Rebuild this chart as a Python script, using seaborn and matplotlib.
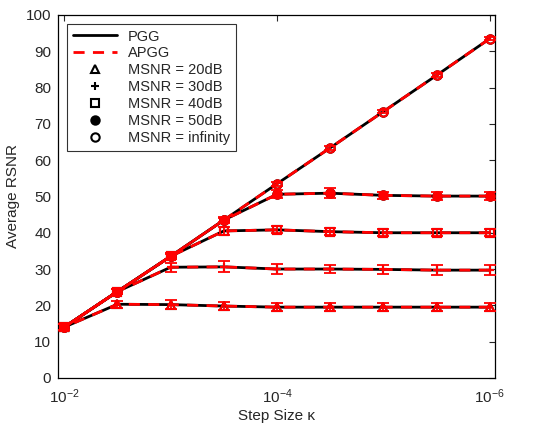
import numpy as np
import pandas as pd
import seaborn as sns
import matplotlib.pyplot as plt
from matplotlib.lines import Line2D

# data
step = [1e-2, 3.16e-3, 1e-3, 3.16e-4, 1e-4, 3.16e-5, 1e-5, 3.16e-6, 1e-6]
labels = ["MSNR = 20dB", "MSNR = 30dB", "MSNR = 40dB", "MSNR = 50dB", "MSNR = infinity"]
markers = ["^", "+", "s", "o", "o"]
filled = [False, True, False, True, False]

rsnr_20 = [14.0, 20.3, 20.2, 19.8, 19.5, 19.5, 19.5, 19.5, 19.5]
rsnr_30 = [14.0, 23.8, 30.5, 30.6, 30.0, 30.0, 29.9, 29.7, 29.7]
rsnr_40 = [14.0, 23.8, 33.5, 40.5, 40.8, 40.3, 40.0, 40.0, 40.0]
rsnr_50 = [14.0, 23.8, 33.5, 43.5, 50.6, 50.9, 50.3, 50.1, 50.1]
rsnr_inf = [14.0, 23.8, 33.5, 43.5, 53.5, 63.4, 73.4, 83.4, 93.5]

err_20 = [0.8, 1.0, 1.3, 1.2, 1.1, 1.1, 1.1, 1.1, 1.1]
err_30 = [0.8, 0.8, 1.3, 1.5, 1.3, 1.2, 1.3, 1.3, 1.3]
err_40 = [0.8, 0.8, 0.8, 1.0, 1.0, 0.9, 0.9, 0.9, 0.9]
err_50 = [0.8, 0.8, 0.8, 0.8, 1.1, 1.3, 1.0, 1.0, 1.0]
err_inf = [0.8, 0.8, 0.6, 0.6, 0.6, 0.6, 0.5, 0.5, 0.5]

series = [rsnr_20, rsnr_30, rsnr_40, rsnr_50, rsnr_inf]
errors = [err_20, err_30, err_40, err_50, err_inf]

sns.set_style("white")
plt.rcParams['font.family'] = ['Liberation Sans', 'DejaVu Sans']
plt.rcParams['mathtext.fontset'] = 'dejavusans'

fig = plt.figure(figsize=(5.54, 4.28), dpi=100)
ax = fig.add_axes([0.105, 0.117, 0.788, 0.848])

for vals, errs, lab, m, f in zip(series, errors, labels, markers, filled):
    df = pd.DataFrame({"step": step, "rsnr": vals})
    # PGG: black solid
    sns.lineplot(data=df, x="step", y="rsnr", ax=ax, color="black", lw=2.0,
                 marker=m, markersize=6, markeredgecolor="black",
                 markerfacecolor="black" if f else "none", mew=1.5)
    # APGG: red dashed, on top
    ax.errorbar(step, vals, yerr=errs, fmt="none", ecolor="red", elinewidth=1.3,
                capsize=4.5, capthick=1.3, zorder=4)
    sns.lineplot(data=df, x="step", y="rsnr", ax=ax, color="red", lw=2.0,
                 linestyle=(0, (4, 3)), marker=m, markersize=6,
                 markeredgecolor="red", markerfacecolor="red" if f else "none",
                 mew=1.5, zorder=5)

ax.set_xscale("log")
ax.set_xlim(1.14e-2, 0.9e-6)
ax.set_ylim(0, 100)
ax.set_xticks([1e-2, 1e-4, 1e-6])
ax.xaxis.set_minor_locator(plt.NullLocator())
ax.set_yticks(range(0, 101, 10))
ax.tick_params(direction="in", top=True, right=True, labelsize=11, length=4, width=0.8)
ax.tick_params(axis="x", pad=7)
ax.tick_params(axis="y", pad=5)
for s in ax.spines.values():
    s.set_color("black")
    s.set_linewidth(0.9)
ax.set_xlabel("Step Size κ", fontsize=11, labelpad=2)
ax.set_ylabel("Average RSNR", fontsize=11)

handles = [Line2D([], [], color="black", lw=2, label="PGG"),
           Line2D([], [], color="red", lw=2, linestyle=(0, (4, 3)), label="APGG")]
for lab, m, f in zip(labels, markers, filled):
    handles.append(Line2D([], [], color="black", lw=0, marker=m, markersize=6,
                          markerfacecolor="black" if f else "none",
                          markeredgecolor="black", mew=1.5, label=lab))
leg = ax.legend(handles=handles, loc="upper left", fontsize=10.5, frameon=True,
                fancybox=False, edgecolor="black", borderaxespad=0.6,
                handlelength=3.0, labelspacing=0.2)
leg.get_frame().set_linewidth(0.8)

fig.savefig("out.png", dpi=100)
